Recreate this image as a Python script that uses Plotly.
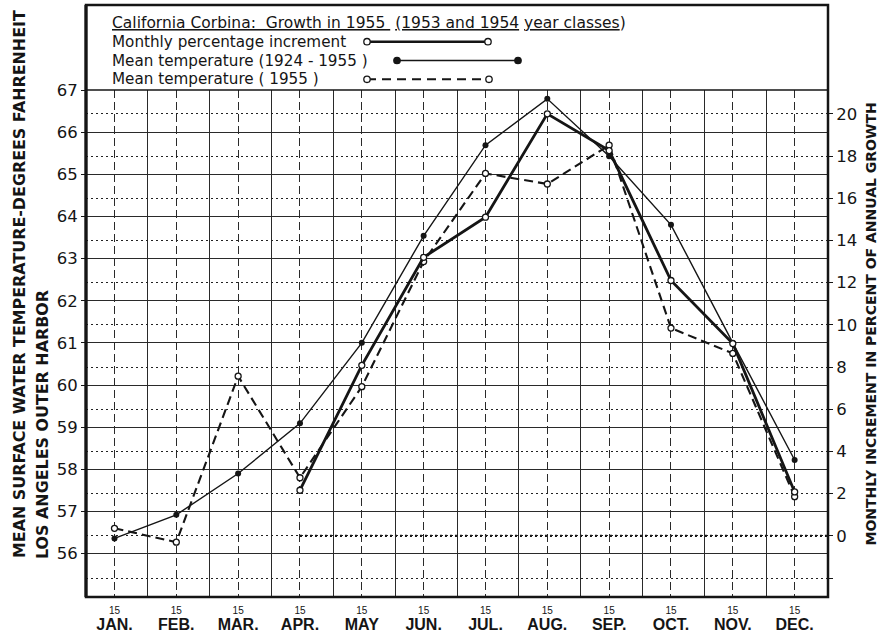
import plotly.graph_objects as go

# ---- data -------------------------------------------------------------
MONTHS = ["JAN.", "FEB.", "MAR.", "APR.", "MAY", "JUN.",
          "JUL.", "AUG.", "SEP.", "OCT.", "NOV.", "DEC."]
DAY_LABEL = "15"
MID_DAY = 15

# mean surface water temperature, Los Angeles outer harbor (deg F)
TEMP_1924_1955 = [56.36, 56.92, 57.90, 59.09, 61.00, 63.54,
                  65.69, 66.79, 65.43, 63.80, 61.00, 58.22]
TEMP_1955 = [56.60, 56.27, 60.21, 57.80, 59.96, 62.93,
             65.02, 64.77, 65.69, 61.35, 60.75, 57.35]

# monthly increment in percent of annual growth (April - December)
GROWTH_MONTHS = ["APR.", "MAY", "JUN.", "JUL.", "AUG.", "SEP.", "OCT.", "NOV.", "DEC."]
GROWTH_PCT = [2.16, 8.08, 13.20, 15.10, 20.00, 18.26, 12.10, 9.11, 2.08]

TEMP_TICKS = list(range(56, 68))
PCT_TICKS = list(range(-2, 21, 2))

TITLE = ("<u>California Corbina:  Growth in 1955 </u> <u>(1953 and 1954</u> "
         "<u>year classes</u>)")
LEGEND_LABELS = ["Monthly percentage increment",
                 "Mean temperature (1924 - 1955 )",
                 "Mean temperature ( 1955 )"]
LEFT_TITLE_1 = "MEAN SURFACE WATER TEMPERATURE-DEGREES FAHRENHEIT"
LEFT_TITLE_2 = "LOS ANGELES OUTER HARBOR"
RIGHT_TITLE = "MONTHLY INCREMENT IN PERCENT OF ANNUAL GROWTH"

# ---- geometry ---------------------------------------------------------
W, H = 880, 636
ML, MR, MT, MB = 86, 52, 90, 39
PW, PH = W - ML - MR, H - MT - MB
INK = "#151515"
FONT = "DejaVu Sans"

# x positions: month index plus the fraction of the month elapsed by the 15th
mid = [i + (MID_DAY - 1) / 30.4 for i in range(len(MONTHS))]
month_pos = dict(zip(MONTHS, mid))
growth_x = [month_pos[m] for m in GROWTH_MONTHS]


def px(x):
    return (x - ML) / PW


def py(y):
    return (H - MB - y) / PH


fig = go.Figure()

fig.add_trace(go.Scatter(
    x=mid, y=TEMP_1955, mode="lines+markers", yaxis="y",
    line=dict(color=INK, width=2.1, dash="9px,5px"),
    marker=dict(symbol="circle", size=6, color="white",
                line=dict(color=INK, width=1.3)),
    showlegend=False, cliponaxis=False))

fig.add_trace(go.Scatter(
    x=mid, y=TEMP_1924_1955, mode="lines+markers", yaxis="y",
    line=dict(color=INK, width=1.4),
    marker=dict(symbol="circle", size=6, color=INK),
    showlegend=False, cliponaxis=False))

fig.add_trace(go.Scatter(
    x=growth_x, y=GROWTH_PCT, mode="lines+markers", yaxis="y2",
    line=dict(color=INK, width=2.8),
    marker=dict(symbol="circle", size=6, color="white",
                line=dict(color=INK, width=1.3)),
    showlegend=False, cliponaxis=False))

shapes = []
# outer frame enclosing the legend block and the grid
shapes.append(dict(type="rect", xref="paper", yref="paper",
                   x0=0, x1=1, y0=0, y1=py(5),
                   line=dict(color=INK, width=2.5), layer="above"))
shapes.append(dict(type="line", xref="paper", yref="paper",
                   x0=0, x1=0, y0=0, y1=py(5),
                   line=dict(color=INK, width=3.2), layer="above"))
shapes.append(dict(type="line", xref="paper", yref="paper",
                   x0=0, x1=1, y0=1, y1=1,
                   line=dict(color=INK, width=1.4), layer="above"))
# heavier zero line of the growth scale from April on
shapes.append(dict(type="line", xref="x", yref="y2",
                   x0=month_pos[GROWTH_MONTHS[0]], x1=12, y0=0, y1=0,
                   line=dict(color=INK, width=2.2, dash="2px,3px"), layer="below"))

# legend samples
rows_y = [41.7, 60.5, 79.3]
samples = [(367, 488, 2.6, "solid", "open"),
           (397, 518, 1.5, "solid", "filled"),
           (367, 489, 2.0, "9px,6px", "open")]
for yrow, (xa, xb, lw, dash, mk) in zip(rows_y, samples):
    shapes.append(dict(type="line", xref="paper", yref="paper",
                       x0=px(xa), x1=px(xb), y0=py(yrow), y1=py(yrow),
                       line=dict(color=INK, width=lw, dash=dash), layer="above"))
    for xc in (xa, xb):
        r = 3.2
        shapes.append(dict(type="circle", xref="paper", yref="paper",
                           x0=px(xc - r), x1=px(xc + r),
                           y0=py(yrow + r), y1=py(yrow - r),
                           fillcolor="white" if mk == "open" else INK,
                           line=dict(color=INK, width=1.3), layer="above"))

annotations = []
annotations.append(dict(text=TITLE, xref="paper", yref="paper",
                        x=px(110), y=py(22.5), xanchor="left", yanchor="middle",
                        showarrow=False, font=dict(family=FONT, size=15.5, color=INK)))
for yrow, lab in zip(rows_y, LEGEND_LABELS):
    annotations.append(dict(text=lab, xref="paper", yref="paper",
                            x=px(110), y=py(yrow), xanchor="left", yanchor="middle",
                            showarrow=False, font=dict(family=FONT, size=15.2, color=INK)))

annotations.append(dict(text=LEFT_TITLE_1, xref="paper", yref="paper",
                        x=px(19), y=py(560), xanchor="center", yanchor="bottom",
                        textangle=-90, showarrow=False,
                        font=dict(family=FONT, size=15.9, color=INK, weight="bold")))
annotations.append(dict(text=LEFT_TITLE_2, xref="paper", yref="paper",
                        x=px(42.5), y=py(561), xanchor="center", yanchor="bottom",
                        textangle=-90, showarrow=False,
                        font=dict(family=FONT, size=15.9, color=INK, weight="bold")))
annotations.append(dict(text=RIGHT_TITLE, xref="paper", yref="paper",
                        x=px(870), y=py(548), xanchor="center", yanchor="bottom",
                        textangle=-90, showarrow=False,
                        font=dict(family=FONT, size=14, color=INK, weight="bold")))

tick_text = [f"<span style='font-size:10px'>{DAY_LABEL}</span><br>"
             f"<span style='font-size:16px;font-weight:bold'>{m}</span>" for m in MONTHS]

fig.update_layout(
    width=W, height=H,
    margin=dict(l=ML, r=MR, t=MT, b=MB, pad=0, autoexpand=False),
    paper_bgcolor="white", plot_bgcolor="white",
    font=dict(family=FONT, color=INK),
    showlegend=False,
    shapes=shapes, annotations=annotations,
    xaxis=dict(
        range=[0, 12], tickmode="array", tickvals=mid, ticktext=tick_text,
        tickfont=dict(family="Liberation Sans", size=12, color=INK),
        ticks="", ticklabelstandoff=4, showline=False, zeroline=False,
        automargin=False,
        showgrid=True, gridcolor="#2a2a2a", gridwidth=1.1, griddash="8px,4px",
        minor=dict(tickvals=list(range(1, 12)), showgrid=True,
                   gridcolor="#2a2a2a", gridwidth=1.3, griddash="solid", ticks=""),
        fixedrange=True),
    yaxis=dict(
        range=[54.97, 67], tickmode="array", tickvals=TEMP_TICKS,
        ticks="outside", ticklen=4, tickwidth=1.3, tickcolor=INK,
        tickfont=dict(family=FONT, size=16.5, color=INK),
        automargin=False,
        showgrid=True, gridcolor="#2a2a2a", gridwidth=1.2,
        zeroline=False, showline=False),
    yaxis2=dict(
        overlaying="y", side="right", anchor="x",
        range=[-2.9, 21.13], tickmode="array", tickvals=PCT_TICKS,
        ticktext=["" if v < 0 else str(v) for v in PCT_TICKS],
        ticks="outside", ticklen=4, tickwidth=1.3, tickcolor=INK,
        tickfont=dict(family=FONT, size=16.5, color=INK),
        automargin=False,
        showgrid=True, gridcolor="#222", gridwidth=1.2, griddash="2px,3px",
        zeroline=False, showline=False),
)

fig.write_html("out.html")
